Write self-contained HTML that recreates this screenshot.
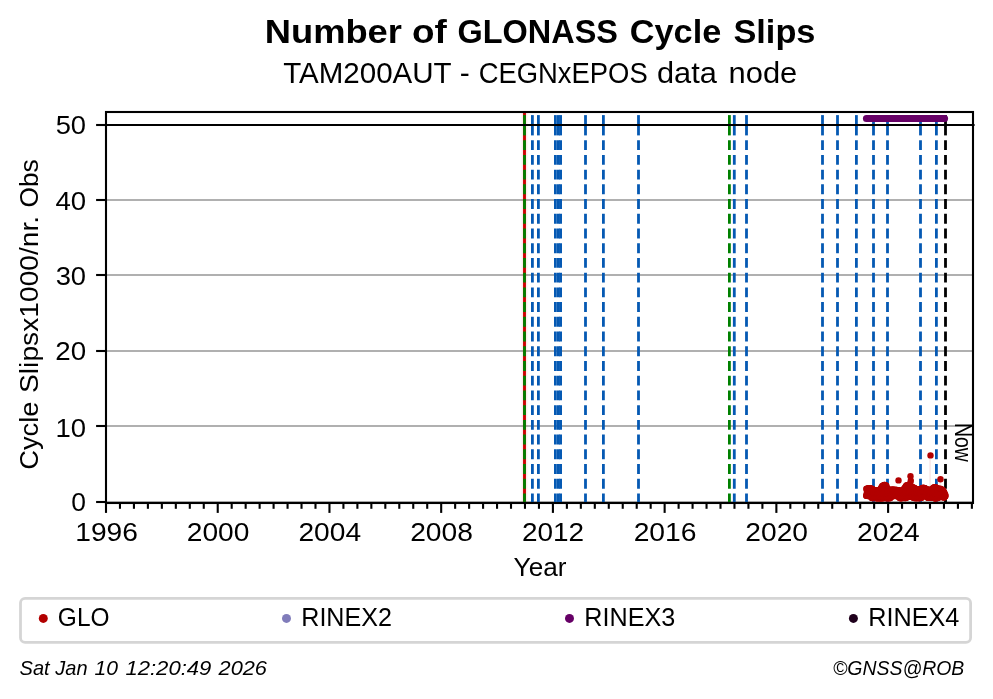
<!DOCTYPE html>
<html><head><meta charset="utf-8"><title>Number of GLONASS Cycle Slips</title>
<style>html,body{margin:0;padding:0;background:#fff;overflow:hidden}svg{display:block;will-change:transform}text{font-family:"Liberation Sans",sans-serif;fill:#000}</style>
</head><body>
<svg width="993" height="699" viewBox="0 0 993 699">
<rect width="993" height="699" fill="#fff"/>
<clipPath id="ax"><rect x="106.0" y="112.0" width="867.0" height="391.0"/></clipPath>
<g stroke="#b0b0b0" stroke-width="2.2">
<line x1="106.0" x2="973.0" y1="502.0" y2="502.0"/>
<line x1="106.0" x2="973.0" y1="426.0" y2="426.0"/>
<line x1="106.0" x2="973.0" y1="351.0" y2="351.0"/>
<line x1="106.0" x2="973.0" y1="275.0" y2="275.0"/>
<line x1="106.0" x2="973.0" y1="200.0" y2="200.0"/>
</g>
<g clip-path="url(#ax)">
<path d="M524.5 112.0V503.0" stroke="#ff0000" stroke-opacity="0.08" stroke-width="5.8" fill="none"/>
<path d="M524.5 112.0V503.0" stroke="#cc0000" stroke-width="2.9" fill="none"/>
<path d="M524.5 115.1V135.4" stroke="#008000" stroke-width="2.8" fill="none"/><path d="M524.5 140.2V503.4" stroke="#008000" stroke-width="2.8" stroke-dasharray="9.9 4.82" fill="none"/>
<path d="M729.4 115.1V135.4" stroke="#008000" stroke-width="2.8" fill="none"/><path d="M729.4 140.2V503.4" stroke="#008000" stroke-width="2.8" stroke-dasharray="9.9 4.82" fill="none"/>
<path d="M532.4 115.1V135.4" stroke="#0559b3" stroke-width="2.8" fill="none"/><path d="M532.4 140.2V503.4" stroke="#0559b3" stroke-width="2.8" stroke-dasharray="9.9 4.82" fill="none"/>
<path d="M538.4 115.1V135.4" stroke="#0559b3" stroke-width="2.8" fill="none"/><path d="M538.4 140.2V503.4" stroke="#0559b3" stroke-width="2.8" stroke-dasharray="9.9 4.82" fill="none"/>
<path d="M555.4 115.1V135.4" stroke="#0559b3" stroke-width="2.8" fill="none"/><path d="M555.4 140.2V503.4" stroke="#0559b3" stroke-width="2.8" stroke-dasharray="9.9 4.82" fill="none"/>
<path d="M558.4 115.1V135.4" stroke="#0559b3" stroke-width="2.8" fill="none"/><path d="M558.4 140.2V503.4" stroke="#0559b3" stroke-width="2.8" stroke-dasharray="9.9 4.82" fill="none"/>
<path d="M560.6 115.1V135.4" stroke="#0559b3" stroke-width="2.8" fill="none"/><path d="M560.6 140.2V503.4" stroke="#0559b3" stroke-width="2.8" stroke-dasharray="9.9 4.82" fill="none"/>
<path d="M585.5 115.1V135.4" stroke="#0559b3" stroke-width="2.8" fill="none"/><path d="M585.5 140.2V503.4" stroke="#0559b3" stroke-width="2.8" stroke-dasharray="9.9 4.82" fill="none"/>
<path d="M603.4 115.1V135.4" stroke="#0559b3" stroke-width="2.8" fill="none"/><path d="M603.4 140.2V503.4" stroke="#0559b3" stroke-width="2.8" stroke-dasharray="9.9 4.82" fill="none"/>
<path d="M638.5 115.1V135.4" stroke="#0559b3" stroke-width="2.8" fill="none"/><path d="M638.5 140.2V503.4" stroke="#0559b3" stroke-width="2.8" stroke-dasharray="9.9 4.82" fill="none"/>
<path d="M734.3 115.1V135.4" stroke="#0559b3" stroke-width="2.8" fill="none"/><path d="M734.3 140.2V503.4" stroke="#0559b3" stroke-width="2.8" stroke-dasharray="9.9 4.82" fill="none"/>
<path d="M746.5 115.1V135.4" stroke="#0559b3" stroke-width="2.8" fill="none"/><path d="M746.5 140.2V503.4" stroke="#0559b3" stroke-width="2.8" stroke-dasharray="9.9 4.82" fill="none"/>
<path d="M822.5 115.1V135.4" stroke="#0559b3" stroke-width="2.8" fill="none"/><path d="M822.5 140.2V503.4" stroke="#0559b3" stroke-width="2.8" stroke-dasharray="9.9 4.82" fill="none"/>
<path d="M837.5 115.1V135.4" stroke="#0559b3" stroke-width="2.8" fill="none"/><path d="M837.5 140.2V503.4" stroke="#0559b3" stroke-width="2.8" stroke-dasharray="9.9 4.82" fill="none"/>
<path d="M856.4 115.1V135.4" stroke="#0559b3" stroke-width="2.8" fill="none"/><path d="M856.4 140.2V503.4" stroke="#0559b3" stroke-width="2.8" stroke-dasharray="9.9 4.82" fill="none"/>
<path d="M873.5 115.1V135.4" stroke="#0559b3" stroke-width="2.8" fill="none"/><path d="M873.5 140.2V503.4" stroke="#0559b3" stroke-width="2.8" stroke-dasharray="9.9 4.82" fill="none"/>
<path d="M887.5 115.1V135.4" stroke="#0559b3" stroke-width="2.8" fill="none"/><path d="M887.5 140.2V503.4" stroke="#0559b3" stroke-width="2.8" stroke-dasharray="9.9 4.82" fill="none"/>
<path d="M920.5 115.1V135.4" stroke="#0559b3" stroke-width="2.8" fill="none"/><path d="M920.5 140.2V503.4" stroke="#0559b3" stroke-width="2.8" stroke-dasharray="9.9 4.82" fill="none"/>
<path d="M936.4 115.1V135.4" stroke="#0559b3" stroke-width="2.8" fill="none"/><path d="M936.4 140.2V503.4" stroke="#0559b3" stroke-width="2.8" stroke-dasharray="9.9 4.82" fill="none"/>
<path d="M945.5 115.1V135.4" stroke="#000000" stroke-width="2.8" fill="none"/><path d="M945.5 140.2V503.4" stroke="#000000" stroke-width="2.8" stroke-dasharray="9.9 4.82" fill="none"/>
</g>
<line x1="106.0" x2="974.6" y1="125" y2="125" stroke="#000" stroke-width="2.1"/>
<g stroke="#b20000" stroke-opacity="0.09" stroke-width="1.6">
<line x1="930.1" x2="930.1" y1="455" y2="490"/><line x1="940.3" x2="940.3" y1="479" y2="490"/>
</g>
<g fill="#b20000">
<path d="M866.3 488.7 L866.8 488.6 L867.3 488.5 L867.8 488.4 L868.3 488.3 L868.8 488.2 L869.3 488.2 L869.8 488.3 L870.3 488.3 L870.8 488.3 L871.3 488.4 L871.8 488.4 L872.3 488.7 L872.8 489.1 L873.3 489.6 L873.8 490.1 L874.3 490.5 L874.8 490.8 L875.3 490.7 L875.8 490.6 L876.3 490.5 L876.8 490.4 L877.3 490.3 L877.8 490.2 L878.3 490.1 L878.8 490.0 L879.3 489.8 L879.8 489.7 L880.3 489.4 L880.8 488.5 L881.3 487.6 L881.8 486.7 L882.3 485.9 L882.8 485.6 L883.3 485.2 L883.8 484.8 L884.3 484.6 L884.8 484.8 L885.3 485.1 L885.8 485.3 L886.3 485.6 L886.8 487.0 L887.3 488.4 L887.8 489.8 L888.3 489.8 L888.8 489.8 L889.3 489.7 L889.8 489.7 L890.3 489.7 L890.8 489.7 L891.3 489.6 L891.8 489.6 L892.3 489.6 L892.8 489.6 L893.3 489.6 L893.8 489.6 L894.3 489.5 L894.8 489.5 L895.3 489.5 L895.8 489.5 L896.3 489.6 L896.8 489.7 L897.3 489.9 L897.8 490.0 L898.3 490.1 L898.8 490.3 L899.3 490.4 L899.8 490.5 L900.3 490.7 L900.8 490.8 L901.3 490.6 L901.8 490.4 L902.3 490.3 L902.8 490.1 L903.3 489.6 L903.8 489.0 L904.3 488.4 L904.8 487.8 L905.3 487.1 L905.8 486.2 L906.3 485.3 L906.8 485.2 L907.3 485.5 L907.8 485.8 L908.3 486.1 L908.8 486.2 L909.3 486.3 L909.8 486.4 L910.3 486.5 L910.8 486.5 L911.3 486.6 L911.8 486.7 L912.3 486.8 L912.8 487.0 L913.3 487.2 L913.8 487.5 L914.3 487.7 L914.8 488.0 L915.3 488.2 L915.8 488.5 L916.3 488.7 L916.8 489.0 L917.3 489.2 L917.8 489.5 L918.3 489.5 L918.8 489.4 L919.3 489.2 L919.8 489.1 L920.3 488.9 L920.8 488.8 L921.3 488.5 L921.8 488.2 L922.3 487.9 L922.8 487.7 L923.3 487.4 L923.8 487.5 L924.3 487.8 L924.8 488.1 L925.3 488.3 L925.8 488.6 L926.3 488.9 L926.8 489.1 L927.3 489.4 L927.8 489.7 L928.3 489.9 L928.8 490.2 L929.3 490.5 L929.8 490.4 L930.3 490.0 L930.8 489.6 L931.3 489.2 L931.8 488.9 L932.3 488.5 L932.8 488.1 L933.3 487.7 L933.8 487.4 L934.3 487.0 L934.8 486.6 L935.3 486.7 L935.8 487.1 L936.3 487.5 L936.8 487.8 L937.3 488.3 L937.8 488.8 L938.3 489.2 L938.8 489.0 L939.3 488.9 L939.8 488.8 L940.3 488.7 L940.8 488.8 L941.3 489.1 L941.8 489.4 L942.3 489.7 L942.8 490.2 L943.3 490.8 L943.8 491.4 L944.3 492.5 L944.8 493.5 L945.3 494.6 L945.3 496.4 L944.8 496.8 L944.3 497.2 L943.8 497.6 L943.3 497.7 L942.8 497.3 L942.3 497.0 L941.8 496.8 L941.3 496.8 L940.8 496.8 L940.3 496.8 L939.8 496.8 L939.3 497.0 L938.8 497.5 L938.3 498.0 L937.8 498.3 L937.3 498.3 L936.8 498.3 L936.3 498.3 L935.8 498.3 L935.3 498.3 L934.8 498.3 L934.3 498.3 L933.8 498.2 L933.3 498.1 L932.8 498.0 L932.3 497.8 L931.8 497.7 L931.3 497.6 L930.8 497.5 L930.3 497.6 L929.8 497.7 L929.3 497.8 L928.8 497.9 L928.3 498.0 L927.8 497.9 L927.3 497.4 L926.8 496.9 L926.3 496.4 L925.8 496.1 L925.3 496.1 L924.8 496.1 L924.3 496.1 L923.8 496.1 L923.3 496.1 L922.8 496.3 L922.3 496.9 L921.8 497.4 L921.3 498.0 L920.8 498.3 L920.3 498.3 L919.8 498.3 L919.3 498.3 L918.8 498.3 L918.3 498.3 L917.8 498.3 L917.3 498.3 L916.8 498.3 L916.3 498.3 L915.8 498.3 L915.3 498.3 L914.8 498.3 L914.3 498.3 L913.8 498.2 L913.3 497.8 L912.8 497.5 L912.3 497.2 L911.8 497.0 L911.3 497.0 L910.8 496.9 L910.3 496.9 L909.8 496.9 L909.3 496.9 L908.8 496.8 L908.3 496.8 L907.8 497.0 L907.3 497.3 L906.8 497.7 L906.3 498.1 L905.8 498.3 L905.3 498.3 L904.8 498.3 L904.3 498.3 L903.8 498.3 L903.3 498.3 L902.8 498.3 L902.3 498.3 L901.8 498.3 L901.3 498.3 L900.8 498.3 L900.3 498.3 L899.8 498.1 L899.3 497.5 L898.8 497.0 L898.3 496.4 L897.8 496.1 L897.3 496.1 L896.8 496.1 L896.3 496.2 L895.8 496.2 L895.3 496.2 L894.8 496.2 L894.3 496.2 L893.8 496.2 L893.3 496.3 L892.8 496.3 L892.3 496.3 L891.8 496.5 L891.3 497.0 L890.8 497.5 L890.3 498.0 L889.8 498.3 L889.3 498.3 L888.8 498.3 L888.3 498.3 L887.8 498.3 L887.3 498.3 L886.8 498.3 L886.3 498.3 L885.8 498.3 L885.3 498.3 L884.8 498.3 L884.3 498.3 L883.8 498.3 L883.3 498.3 L882.8 498.3 L882.3 498.3 L881.8 498.3 L881.3 498.3 L880.8 498.3 L880.3 498.3 L879.8 498.3 L879.3 498.3 L878.8 498.3 L878.3 498.3 L877.8 498.3 L877.3 498.3 L876.8 498.3 L876.3 498.3 L875.8 498.3 L875.3 498.3 L874.8 498.3 L874.3 498.3 L873.8 498.3 L873.3 498.3 L872.8 498.3 L872.3 498.3 L871.8 498.1 L871.3 497.5 L870.8 497.0 L870.3 496.4 L869.8 496.1 L869.3 496.1 L868.8 496.1 L868.3 496.1 L867.8 496.0 L867.3 496.0 L866.8 496.0 L866.3 496.0Z" stroke="#b20000" stroke-width="1"/>
<circle cx="866.3" cy="488.9" r="3.2"/><circle cx="866.3" cy="495.7" r="3.2"/><circle cx="866.3" cy="495.4" r="3.2"/><circle cx="866.8" cy="488.8" r="3.2"/><circle cx="866.8" cy="495.8" r="3.2"/><circle cx="866.8" cy="493.0" r="3.2"/><circle cx="867.3" cy="488.6" r="3.2"/><circle cx="867.3" cy="495.8" r="3.2"/><circle cx="867.3" cy="493.2" r="3.2"/><circle cx="867.8" cy="488.8" r="3.2"/><circle cx="867.8" cy="496.0" r="3.2"/><circle cx="867.8" cy="490.7" r="3.2"/><circle cx="868.3" cy="488.4" r="3.2"/><circle cx="868.3" cy="495.6" r="3.2"/><circle cx="868.3" cy="493.7" r="3.2"/><circle cx="868.8" cy="488.3" r="3.2"/><circle cx="868.8" cy="495.6" r="3.2"/><circle cx="868.8" cy="495.8" r="3.2"/><circle cx="869.3" cy="488.5" r="3.2"/><circle cx="869.3" cy="495.8" r="3.2"/><circle cx="869.3" cy="489.5" r="3.2"/><circle cx="869.8" cy="488.3" r="3.2"/><circle cx="869.8" cy="495.8" r="3.2"/><circle cx="869.8" cy="488.7" r="3.2"/><circle cx="870.3" cy="488.4" r="3.2"/><circle cx="870.3" cy="496.3" r="3.2"/><circle cx="870.3" cy="488.5" r="3.2"/><circle cx="870.8" cy="488.6" r="3.2"/><circle cx="870.8" cy="496.8" r="3.2"/><circle cx="870.8" cy="495.6" r="3.2"/><circle cx="871.3" cy="488.6" r="3.2"/><circle cx="871.3" cy="497.2" r="3.2"/><circle cx="871.3" cy="492.9" r="3.2"/><circle cx="871.8" cy="488.7" r="3.2"/><circle cx="871.8" cy="497.9" r="3.2"/><circle cx="871.8" cy="491.1" r="3.2"/><circle cx="872.3" cy="489.2" r="3.2"/><circle cx="872.3" cy="497.8" r="3.2"/><circle cx="872.3" cy="496.8" r="3.2"/><circle cx="872.8" cy="489.5" r="3.2"/><circle cx="872.8" cy="498.1" r="3.2"/><circle cx="872.8" cy="491.2" r="3.2"/><circle cx="873.3" cy="489.7" r="3.2"/><circle cx="873.3" cy="498.3" r="3.2"/><circle cx="873.3" cy="496.3" r="3.2"/><circle cx="873.8" cy="490.3" r="3.2"/><circle cx="873.8" cy="497.9" r="3.2"/><circle cx="873.8" cy="493.2" r="3.2"/><circle cx="874.3" cy="491.0" r="3.2"/><circle cx="874.3" cy="497.9" r="3.2"/><circle cx="874.3" cy="490.5" r="3.2"/><circle cx="874.8" cy="490.9" r="3.2"/><circle cx="874.8" cy="497.8" r="3.2"/><circle cx="874.8" cy="494.3" r="3.2"/><circle cx="875.3" cy="491.2" r="3.2"/><circle cx="875.3" cy="498.1" r="3.2"/><circle cx="875.3" cy="491.2" r="3.2"/><circle cx="875.8" cy="490.9" r="3.2"/><circle cx="875.8" cy="497.9" r="3.2"/><circle cx="875.8" cy="492.7" r="3.2"/><circle cx="876.3" cy="490.5" r="3.2"/><circle cx="876.3" cy="498.1" r="3.2"/><circle cx="876.3" cy="498.0" r="3.2"/><circle cx="876.8" cy="490.8" r="3.2"/><circle cx="876.8" cy="498.2" r="3.2"/><circle cx="876.8" cy="492.4" r="3.2"/><circle cx="877.3" cy="490.4" r="3.2"/><circle cx="877.3" cy="498.3" r="3.2"/><circle cx="877.3" cy="496.7" r="3.2"/><circle cx="877.8" cy="490.3" r="3.2"/><circle cx="877.8" cy="498.0" r="3.2"/><circle cx="877.8" cy="493.8" r="3.2"/><circle cx="878.3" cy="490.2" r="3.2"/><circle cx="878.3" cy="497.9" r="3.2"/><circle cx="878.3" cy="491.2" r="3.2"/><circle cx="878.8" cy="490.3" r="3.2"/><circle cx="878.8" cy="498.2" r="3.2"/><circle cx="878.8" cy="493.5" r="3.2"/><circle cx="879.3" cy="490.0" r="3.2"/><circle cx="879.3" cy="498.2" r="3.2"/><circle cx="879.3" cy="498.1" r="3.2"/><circle cx="879.8" cy="490.1" r="3.2"/><circle cx="879.8" cy="498.1" r="3.2"/><circle cx="879.8" cy="497.3" r="3.2"/><circle cx="880.3" cy="489.5" r="3.2"/><circle cx="880.3" cy="498.1" r="3.2"/><circle cx="880.3" cy="497.0" r="3.2"/><circle cx="880.8" cy="488.8" r="3.2"/><circle cx="880.8" cy="498.2" r="3.2"/><circle cx="880.8" cy="498.2" r="3.2"/><circle cx="881.3" cy="487.7" r="3.2"/><circle cx="881.3" cy="498.2" r="3.2"/><circle cx="881.3" cy="495.9" r="3.2"/><circle cx="881.8" cy="486.9" r="3.2"/><circle cx="881.8" cy="498.2" r="3.2"/><circle cx="881.8" cy="487.6" r="3.2"/><circle cx="882.3" cy="486.0" r="3.2"/><circle cx="882.3" cy="498.0" r="3.2"/><circle cx="882.3" cy="488.9" r="3.2"/><circle cx="882.8" cy="485.9" r="3.2"/><circle cx="882.8" cy="498.1" r="3.2"/><circle cx="882.8" cy="491.3" r="3.2"/><circle cx="883.3" cy="485.7" r="3.2"/><circle cx="883.3" cy="498.1" r="3.2"/><circle cx="883.3" cy="492.7" r="3.2"/><circle cx="883.8" cy="485.2" r="3.2"/><circle cx="883.8" cy="498.2" r="3.2"/><circle cx="883.8" cy="486.9" r="3.2"/><circle cx="884.3" cy="485.0" r="3.2"/><circle cx="884.3" cy="497.9" r="3.2"/><circle cx="884.3" cy="488.0" r="3.2"/><circle cx="884.8" cy="484.9" r="3.2"/><circle cx="884.8" cy="497.9" r="3.2"/><circle cx="884.8" cy="497.5" r="3.2"/><circle cx="885.3" cy="485.2" r="3.2"/><circle cx="885.3" cy="497.8" r="3.2"/><circle cx="885.3" cy="496.7" r="3.2"/><circle cx="885.8" cy="485.6" r="3.2"/><circle cx="885.8" cy="498.1" r="3.2"/><circle cx="885.8" cy="486.7" r="3.2"/><circle cx="886.3" cy="485.6" r="3.2"/><circle cx="886.3" cy="497.8" r="3.2"/><circle cx="886.3" cy="488.6" r="3.2"/><circle cx="886.8" cy="487.4" r="3.2"/><circle cx="886.8" cy="498.2" r="3.2"/><circle cx="886.8" cy="496.3" r="3.2"/><circle cx="887.3" cy="488.7" r="3.2"/><circle cx="887.3" cy="498.2" r="3.2"/><circle cx="887.3" cy="490.1" r="3.2"/><circle cx="887.8" cy="490.2" r="3.2"/><circle cx="887.8" cy="498.3" r="3.2"/><circle cx="887.8" cy="491.7" r="3.2"/><circle cx="888.3" cy="490.1" r="3.2"/><circle cx="888.3" cy="497.9" r="3.2"/><circle cx="888.3" cy="495.0" r="3.2"/><circle cx="888.8" cy="489.9" r="3.2"/><circle cx="888.8" cy="497.8" r="3.2"/><circle cx="888.8" cy="491.5" r="3.2"/><circle cx="889.3" cy="489.7" r="3.2"/><circle cx="889.3" cy="498.2" r="3.2"/><circle cx="889.3" cy="493.5" r="3.2"/><circle cx="889.8" cy="489.7" r="3.2"/><circle cx="889.8" cy="498.2" r="3.2"/><circle cx="889.8" cy="492.9" r="3.2"/><circle cx="890.3" cy="490.0" r="3.2"/><circle cx="890.3" cy="497.9" r="3.2"/><circle cx="890.3" cy="492.7" r="3.2"/><circle cx="890.8" cy="490.1" r="3.2"/><circle cx="890.8" cy="497.0" r="3.2"/><circle cx="890.8" cy="494.8" r="3.2"/><circle cx="891.3" cy="490.0" r="3.2"/><circle cx="891.3" cy="496.7" r="3.2"/><circle cx="891.3" cy="490.7" r="3.2"/><circle cx="891.8" cy="489.6" r="3.2"/><circle cx="891.8" cy="496.5" r="3.2"/><circle cx="891.8" cy="495.9" r="3.2"/><circle cx="892.3" cy="489.9" r="3.2"/><circle cx="892.3" cy="495.8" r="3.2"/><circle cx="892.3" cy="489.7" r="3.2"/><circle cx="892.8" cy="489.9" r="3.2"/><circle cx="892.8" cy="496.0" r="3.2"/><circle cx="892.8" cy="494.5" r="3.2"/><circle cx="893.3" cy="489.7" r="3.2"/><circle cx="893.3" cy="495.8" r="3.2"/><circle cx="893.3" cy="490.1" r="3.2"/><circle cx="893.8" cy="489.8" r="3.2"/><circle cx="893.8" cy="495.9" r="3.2"/><circle cx="893.8" cy="495.6" r="3.2"/><circle cx="894.3" cy="489.9" r="3.2"/><circle cx="894.3" cy="495.9" r="3.2"/><circle cx="894.3" cy="494.8" r="3.2"/><circle cx="894.8" cy="490.0" r="3.2"/><circle cx="894.8" cy="496.0" r="3.2"/><circle cx="894.8" cy="494.1" r="3.2"/><circle cx="895.3" cy="490.0" r="3.2"/><circle cx="895.3" cy="495.8" r="3.2"/><circle cx="895.3" cy="492.3" r="3.2"/><circle cx="895.8" cy="489.9" r="3.2"/><circle cx="895.8" cy="495.7" r="3.2"/><circle cx="895.8" cy="493.3" r="3.2"/><circle cx="896.3" cy="489.9" r="3.2"/><circle cx="896.3" cy="496.0" r="3.2"/><circle cx="896.3" cy="493.4" r="3.2"/><circle cx="896.8" cy="490.0" r="3.2"/><circle cx="896.8" cy="496.1" r="3.2"/><circle cx="896.8" cy="493.8" r="3.2"/><circle cx="897.3" cy="490.3" r="3.2"/><circle cx="897.3" cy="495.7" r="3.2"/><circle cx="897.3" cy="494.4" r="3.2"/><circle cx="897.8" cy="490.2" r="3.2"/><circle cx="897.8" cy="495.7" r="3.2"/><circle cx="897.8" cy="493.5" r="3.2"/><circle cx="898.3" cy="490.3" r="3.2"/><circle cx="898.3" cy="496.0" r="3.2"/><circle cx="898.3" cy="490.7" r="3.2"/><circle cx="898.8" cy="490.6" r="3.2"/><circle cx="898.8" cy="497.0" r="3.2"/><circle cx="898.8" cy="494.3" r="3.2"/><circle cx="899.3" cy="490.6" r="3.2"/><circle cx="899.3" cy="497.4" r="3.2"/><circle cx="899.3" cy="495.4" r="3.2"/><circle cx="899.8" cy="490.8" r="3.2"/><circle cx="899.8" cy="497.8" r="3.2"/><circle cx="899.8" cy="497.5" r="3.2"/><circle cx="900.3" cy="490.8" r="3.2"/><circle cx="900.3" cy="498.3" r="3.2"/><circle cx="900.3" cy="493.0" r="3.2"/><circle cx="900.8" cy="491.1" r="3.2"/><circle cx="900.8" cy="498.2" r="3.2"/><circle cx="900.8" cy="492.1" r="3.2"/><circle cx="901.3" cy="491.1" r="3.2"/><circle cx="901.3" cy="498.0" r="3.2"/><circle cx="901.3" cy="494.0" r="3.2"/><circle cx="901.8" cy="490.9" r="3.2"/><circle cx="901.8" cy="498.1" r="3.2"/><circle cx="901.8" cy="495.7" r="3.2"/><circle cx="902.3" cy="490.4" r="3.2"/><circle cx="902.3" cy="498.1" r="3.2"/><circle cx="902.3" cy="496.7" r="3.2"/><circle cx="902.8" cy="490.5" r="3.2"/><circle cx="902.8" cy="497.9" r="3.2"/><circle cx="902.8" cy="493.2" r="3.2"/><circle cx="903.3" cy="489.9" r="3.2"/><circle cx="903.3" cy="498.1" r="3.2"/><circle cx="903.3" cy="490.8" r="3.2"/><circle cx="903.8" cy="489.3" r="3.2"/><circle cx="903.8" cy="497.9" r="3.2"/><circle cx="903.8" cy="496.9" r="3.2"/><circle cx="904.3" cy="488.8" r="3.2"/><circle cx="904.3" cy="497.8" r="3.2"/><circle cx="904.3" cy="491.2" r="3.2"/><circle cx="904.8" cy="487.9" r="3.2"/><circle cx="904.8" cy="498.1" r="3.2"/><circle cx="904.8" cy="490.7" r="3.2"/><circle cx="905.3" cy="487.2" r="3.2"/><circle cx="905.3" cy="498.1" r="3.2"/><circle cx="905.3" cy="494.1" r="3.2"/><circle cx="905.8" cy="486.5" r="3.2"/><circle cx="905.8" cy="498.1" r="3.2"/><circle cx="905.8" cy="496.4" r="3.2"/><circle cx="906.3" cy="485.8" r="3.2"/><circle cx="906.3" cy="497.8" r="3.2"/><circle cx="906.3" cy="486.3" r="3.2"/><circle cx="906.8" cy="485.2" r="3.2"/><circle cx="906.8" cy="497.3" r="3.2"/><circle cx="906.8" cy="485.7" r="3.2"/><circle cx="907.3" cy="485.8" r="3.2"/><circle cx="907.3" cy="497.0" r="3.2"/><circle cx="907.3" cy="489.1" r="3.2"/><circle cx="907.8" cy="486.2" r="3.2"/><circle cx="907.8" cy="496.9" r="3.2"/><circle cx="907.8" cy="487.3" r="3.2"/><circle cx="908.3" cy="486.3" r="3.2"/><circle cx="908.3" cy="496.8" r="3.2"/><circle cx="908.3" cy="495.0" r="3.2"/><circle cx="908.8" cy="486.4" r="3.2"/><circle cx="908.8" cy="496.8" r="3.2"/><circle cx="908.8" cy="486.7" r="3.2"/><circle cx="909.3" cy="486.6" r="3.2"/><circle cx="909.3" cy="496.6" r="3.2"/><circle cx="909.3" cy="493.0" r="3.2"/><circle cx="909.8" cy="486.7" r="3.2"/><circle cx="909.8" cy="496.5" r="3.2"/><circle cx="909.8" cy="496.5" r="3.2"/><circle cx="910.3" cy="486.8" r="3.2"/><circle cx="910.3" cy="496.8" r="3.2"/><circle cx="910.3" cy="491.4" r="3.2"/><circle cx="910.8" cy="486.6" r="3.2"/><circle cx="910.8" cy="496.9" r="3.2"/><circle cx="910.8" cy="491.5" r="3.2"/><circle cx="911.3" cy="487.0" r="3.2"/><circle cx="911.3" cy="496.9" r="3.2"/><circle cx="911.3" cy="489.4" r="3.2"/><circle cx="911.8" cy="486.9" r="3.2"/><circle cx="911.8" cy="496.6" r="3.2"/><circle cx="911.8" cy="492.1" r="3.2"/><circle cx="912.3" cy="487.1" r="3.2"/><circle cx="912.3" cy="496.8" r="3.2"/><circle cx="912.3" cy="490.9" r="3.2"/><circle cx="912.8" cy="487.4" r="3.2"/><circle cx="912.8" cy="497.1" r="3.2"/><circle cx="912.8" cy="487.9" r="3.2"/><circle cx="913.3" cy="487.7" r="3.2"/><circle cx="913.3" cy="497.5" r="3.2"/><circle cx="913.3" cy="488.6" r="3.2"/><circle cx="913.8" cy="487.7" r="3.2"/><circle cx="913.8" cy="497.9" r="3.2"/><circle cx="913.8" cy="497.2" r="3.2"/><circle cx="914.3" cy="487.9" r="3.2"/><circle cx="914.3" cy="498.0" r="3.2"/><circle cx="914.3" cy="497.0" r="3.2"/><circle cx="914.8" cy="488.4" r="3.2"/><circle cx="914.8" cy="497.8" r="3.2"/><circle cx="914.8" cy="492.8" r="3.2"/><circle cx="915.3" cy="488.6" r="3.2"/><circle cx="915.3" cy="498.2" r="3.2"/><circle cx="915.3" cy="495.5" r="3.2"/><circle cx="915.8" cy="488.9" r="3.2"/><circle cx="915.8" cy="498.0" r="3.2"/><circle cx="915.8" cy="495.5" r="3.2"/><circle cx="916.3" cy="488.9" r="3.2"/><circle cx="916.3" cy="497.9" r="3.2"/><circle cx="916.3" cy="498.1" r="3.2"/><circle cx="916.8" cy="489.5" r="3.2"/><circle cx="916.8" cy="498.0" r="3.2"/><circle cx="916.8" cy="496.4" r="3.2"/><circle cx="917.3" cy="489.4" r="3.2"/><circle cx="917.3" cy="497.8" r="3.2"/><circle cx="917.3" cy="497.0" r="3.2"/><circle cx="917.8" cy="489.7" r="3.2"/><circle cx="917.8" cy="498.3" r="3.2"/><circle cx="917.8" cy="493.4" r="3.2"/><circle cx="918.3" cy="489.8" r="3.2"/><circle cx="918.3" cy="497.9" r="3.2"/><circle cx="918.3" cy="493.8" r="3.2"/><circle cx="918.8" cy="489.4" r="3.2"/><circle cx="918.8" cy="497.9" r="3.2"/><circle cx="918.8" cy="489.9" r="3.2"/><circle cx="919.3" cy="489.6" r="3.2"/><circle cx="919.3" cy="498.2" r="3.2"/><circle cx="919.3" cy="492.3" r="3.2"/><circle cx="919.8" cy="489.5" r="3.2"/><circle cx="919.8" cy="498.2" r="3.2"/><circle cx="919.8" cy="490.4" r="3.2"/><circle cx="920.3" cy="489.2" r="3.2"/><circle cx="920.3" cy="497.9" r="3.2"/><circle cx="920.3" cy="496.8" r="3.2"/><circle cx="920.8" cy="489.1" r="3.2"/><circle cx="920.8" cy="497.8" r="3.2"/><circle cx="920.8" cy="493.5" r="3.2"/><circle cx="921.3" cy="489.0" r="3.2"/><circle cx="921.3" cy="497.9" r="3.2"/><circle cx="921.3" cy="490.6" r="3.2"/><circle cx="921.8" cy="488.5" r="3.2"/><circle cx="921.8" cy="497.3" r="3.2"/><circle cx="921.8" cy="494.9" r="3.2"/><circle cx="922.3" cy="488.3" r="3.2"/><circle cx="922.3" cy="496.6" r="3.2"/><circle cx="922.3" cy="495.5" r="3.2"/><circle cx="922.8" cy="487.9" r="3.2"/><circle cx="922.8" cy="496.2" r="3.2"/><circle cx="922.8" cy="491.0" r="3.2"/><circle cx="923.3" cy="487.8" r="3.2"/><circle cx="923.3" cy="495.6" r="3.2"/><circle cx="923.3" cy="489.2" r="3.2"/><circle cx="923.8" cy="487.9" r="3.2"/><circle cx="923.8" cy="495.6" r="3.2"/><circle cx="923.8" cy="492.0" r="3.2"/><circle cx="924.3" cy="488.1" r="3.2"/><circle cx="924.3" cy="496.0" r="3.2"/><circle cx="924.3" cy="492.2" r="3.2"/><circle cx="924.8" cy="488.3" r="3.2"/><circle cx="924.8" cy="495.8" r="3.2"/><circle cx="924.8" cy="488.3" r="3.2"/><circle cx="925.3" cy="488.8" r="3.2"/><circle cx="925.3" cy="495.8" r="3.2"/><circle cx="925.3" cy="491.4" r="3.2"/><circle cx="925.8" cy="489.0" r="3.2"/><circle cx="925.8" cy="495.8" r="3.2"/><circle cx="925.8" cy="492.3" r="3.2"/><circle cx="926.3" cy="489.2" r="3.2"/><circle cx="926.3" cy="496.4" r="3.2"/><circle cx="926.3" cy="492.9" r="3.2"/><circle cx="926.8" cy="489.3" r="3.2"/><circle cx="926.8" cy="496.4" r="3.2"/><circle cx="926.8" cy="496.3" r="3.2"/><circle cx="927.3" cy="489.5" r="3.2"/><circle cx="927.3" cy="497.2" r="3.2"/><circle cx="927.3" cy="490.4" r="3.2"/><circle cx="927.8" cy="489.9" r="3.2"/><circle cx="927.8" cy="497.5" r="3.2"/><circle cx="927.8" cy="497.1" r="3.2"/><circle cx="928.3" cy="490.2" r="3.2"/><circle cx="928.3" cy="497.9" r="3.2"/><circle cx="928.3" cy="491.5" r="3.2"/><circle cx="928.8" cy="490.5" r="3.2"/><circle cx="928.8" cy="497.5" r="3.2"/><circle cx="928.8" cy="491.2" r="3.2"/><circle cx="929.3" cy="490.9" r="3.2"/><circle cx="929.3" cy="497.8" r="3.2"/><circle cx="929.3" cy="491.9" r="3.2"/><circle cx="929.8" cy="490.5" r="3.2"/><circle cx="929.8" cy="497.4" r="3.2"/><circle cx="929.8" cy="492.7" r="3.2"/><circle cx="930.3" cy="490.2" r="3.2"/><circle cx="930.3" cy="497.3" r="3.2"/><circle cx="930.3" cy="490.8" r="3.2"/><circle cx="930.8" cy="490.0" r="3.2"/><circle cx="930.8" cy="497.5" r="3.2"/><circle cx="930.8" cy="493.7" r="3.2"/><circle cx="931.3" cy="489.4" r="3.2"/><circle cx="931.3" cy="497.5" r="3.2"/><circle cx="931.3" cy="493.7" r="3.2"/><circle cx="931.8" cy="489.1" r="3.2"/><circle cx="931.8" cy="497.5" r="3.2"/><circle cx="931.8" cy="492.5" r="3.2"/><circle cx="932.3" cy="488.7" r="3.2"/><circle cx="932.3" cy="497.8" r="3.2"/><circle cx="932.3" cy="490.4" r="3.2"/><circle cx="932.8" cy="488.4" r="3.2"/><circle cx="932.8" cy="497.7" r="3.2"/><circle cx="932.8" cy="493.3" r="3.2"/><circle cx="933.3" cy="488.2" r="3.2"/><circle cx="933.3" cy="497.8" r="3.2"/><circle cx="933.3" cy="496.6" r="3.2"/><circle cx="933.8" cy="487.5" r="3.2"/><circle cx="933.8" cy="497.9" r="3.2"/><circle cx="933.8" cy="496.2" r="3.2"/><circle cx="934.3" cy="487.5" r="3.2"/><circle cx="934.3" cy="498.1" r="3.2"/><circle cx="934.3" cy="490.6" r="3.2"/><circle cx="934.8" cy="487.1" r="3.2"/><circle cx="934.8" cy="498.2" r="3.2"/><circle cx="934.8" cy="498.3" r="3.2"/><circle cx="935.3" cy="487.2" r="3.2"/><circle cx="935.3" cy="498.2" r="3.2"/><circle cx="935.3" cy="489.5" r="3.2"/><circle cx="935.8" cy="487.5" r="3.2"/><circle cx="935.8" cy="498.2" r="3.2"/><circle cx="935.8" cy="488.2" r="3.2"/><circle cx="936.3" cy="487.9" r="3.2"/><circle cx="936.3" cy="498.1" r="3.2"/><circle cx="936.3" cy="496.0" r="3.2"/><circle cx="936.8" cy="487.9" r="3.2"/><circle cx="936.8" cy="498.1" r="3.2"/><circle cx="936.8" cy="495.0" r="3.2"/><circle cx="937.3" cy="488.3" r="3.2"/><circle cx="937.3" cy="498.2" r="3.2"/><circle cx="937.3" cy="495.1" r="3.2"/><circle cx="937.8" cy="489.3" r="3.2"/><circle cx="937.8" cy="497.8" r="3.2"/><circle cx="937.8" cy="489.9" r="3.2"/><circle cx="938.3" cy="489.4" r="3.2"/><circle cx="938.3" cy="497.6" r="3.2"/><circle cx="938.3" cy="493.6" r="3.2"/><circle cx="938.8" cy="489.4" r="3.2"/><circle cx="938.8" cy="497.4" r="3.2"/><circle cx="938.8" cy="489.6" r="3.2"/><circle cx="939.3" cy="489.0" r="3.2"/><circle cx="939.3" cy="497.0" r="3.2"/><circle cx="939.3" cy="493.4" r="3.2"/><circle cx="939.8" cy="489.0" r="3.2"/><circle cx="939.8" cy="496.5" r="3.2"/><circle cx="939.8" cy="490.0" r="3.2"/><circle cx="940.3" cy="488.7" r="3.2"/><circle cx="940.3" cy="496.7" r="3.2"/><circle cx="940.3" cy="495.5" r="3.2"/><circle cx="940.8" cy="489.3" r="3.2"/><circle cx="940.8" cy="496.3" r="3.2"/><circle cx="940.8" cy="489.5" r="3.2"/><circle cx="941.3" cy="489.1" r="3.2"/><circle cx="941.3" cy="496.3" r="3.2"/><circle cx="941.3" cy="492.6" r="3.2"/><circle cx="941.8" cy="489.8" r="3.2"/><circle cx="941.8" cy="496.6" r="3.2"/><circle cx="941.8" cy="492.8" r="3.2"/><circle cx="942.3" cy="489.9" r="3.2"/><circle cx="942.3" cy="496.8" r="3.2"/><circle cx="942.3" cy="494.1" r="3.2"/><circle cx="942.8" cy="490.2" r="3.2"/><circle cx="942.8" cy="497.0" r="3.2"/><circle cx="942.8" cy="496.2" r="3.2"/><circle cx="943.3" cy="490.9" r="3.2"/><circle cx="943.3" cy="497.4" r="3.2"/><circle cx="943.3" cy="495.9" r="3.2"/><circle cx="943.8" cy="491.6" r="3.2"/><circle cx="943.8" cy="497.5" r="3.2"/><circle cx="943.8" cy="492.4" r="3.2"/><circle cx="944.3" cy="492.7" r="3.2"/><circle cx="944.3" cy="497.2" r="3.2"/><circle cx="944.3" cy="496.7" r="3.2"/><circle cx="944.8" cy="493.9" r="3.2"/><circle cx="944.8" cy="496.4" r="3.2"/><circle cx="944.8" cy="496.3" r="3.2"/><circle cx="945.3" cy="494.9" r="3.2"/><circle cx="945.3" cy="496.2" r="3.2"/><circle cx="945.3" cy="495.7" r="3.2"/><circle cx="898.5" cy="480.4" r="3.2"/><circle cx="910.5" cy="476.3" r="3.2"/><circle cx="910.8" cy="480.8" r="3.2"/><circle cx="910.2" cy="483.4" r="3.2"/><circle cx="930.5" cy="455.4" r="3.2"/><circle cx="940.5" cy="479.3" r="3.2"/>
</g>
<path d="M866.4 118.4H944.6" stroke="#660066" stroke-width="7" stroke-linecap="round" fill="none"/>
<rect x="106.0" y="112.0" width="867.0" height="391.0" fill="none" stroke="#000" stroke-width="2.1"/>
<g stroke="#000" stroke-width="2.1">
<line x1="96.1" x2="106.0" y1="125.0" y2="125.0"/>
<line x1="96.1" x2="106.0" y1="200.0" y2="200.0"/>
<line x1="96.1" x2="106.0" y1="275.0" y2="275.0"/>
<line x1="96.1" x2="106.0" y1="351.0" y2="351.0"/>
<line x1="96.1" x2="106.0" y1="426.0" y2="426.0"/>
<line x1="96.1" x2="106.0" y1="502.0" y2="502.0"/>
<line x1="106.00" x2="106.00" y1="503.0" y2="512.9"/>
<line x1="119.97" x2="119.97" y1="503.0" y2="508.8"/>
<line x1="133.93" x2="133.93" y1="503.0" y2="508.8"/>
<line x1="147.90" x2="147.90" y1="503.0" y2="508.8"/>
<line x1="161.86" x2="161.86" y1="503.0" y2="508.8"/>
<line x1="175.83" x2="175.83" y1="503.0" y2="508.8"/>
<line x1="189.80" x2="189.80" y1="503.0" y2="508.8"/>
<line x1="203.76" x2="203.76" y1="503.0" y2="508.8"/>
<line x1="217.73" x2="217.73" y1="503.0" y2="512.9"/>
<line x1="231.69" x2="231.69" y1="503.0" y2="508.8"/>
<line x1="245.66" x2="245.66" y1="503.0" y2="508.8"/>
<line x1="259.63" x2="259.63" y1="503.0" y2="508.8"/>
<line x1="273.59" x2="273.59" y1="503.0" y2="508.8"/>
<line x1="287.56" x2="287.56" y1="503.0" y2="508.8"/>
<line x1="301.52" x2="301.52" y1="503.0" y2="508.8"/>
<line x1="315.49" x2="315.49" y1="503.0" y2="508.8"/>
<line x1="329.46" x2="329.46" y1="503.0" y2="512.9"/>
<line x1="343.42" x2="343.42" y1="503.0" y2="508.8"/>
<line x1="357.39" x2="357.39" y1="503.0" y2="508.8"/>
<line x1="371.35" x2="371.35" y1="503.0" y2="508.8"/>
<line x1="385.32" x2="385.32" y1="503.0" y2="508.8"/>
<line x1="399.29" x2="399.29" y1="503.0" y2="508.8"/>
<line x1="413.25" x2="413.25" y1="503.0" y2="508.8"/>
<line x1="427.22" x2="427.22" y1="503.0" y2="508.8"/>
<line x1="441.18" x2="441.18" y1="503.0" y2="512.9"/>
<line x1="455.15" x2="455.15" y1="503.0" y2="508.8"/>
<line x1="469.12" x2="469.12" y1="503.0" y2="508.8"/>
<line x1="483.08" x2="483.08" y1="503.0" y2="508.8"/>
<line x1="497.05" x2="497.05" y1="503.0" y2="508.8"/>
<line x1="511.01" x2="511.01" y1="503.0" y2="508.8"/>
<line x1="524.98" x2="524.98" y1="503.0" y2="508.8"/>
<line x1="538.95" x2="538.95" y1="503.0" y2="508.8"/>
<line x1="552.91" x2="552.91" y1="503.0" y2="512.9"/>
<line x1="566.88" x2="566.88" y1="503.0" y2="508.8"/>
<line x1="580.84" x2="580.84" y1="503.0" y2="508.8"/>
<line x1="594.81" x2="594.81" y1="503.0" y2="508.8"/>
<line x1="608.78" x2="608.78" y1="503.0" y2="508.8"/>
<line x1="622.74" x2="622.74" y1="503.0" y2="508.8"/>
<line x1="636.71" x2="636.71" y1="503.0" y2="508.8"/>
<line x1="650.67" x2="650.67" y1="503.0" y2="508.8"/>
<line x1="664.64" x2="664.64" y1="503.0" y2="512.9"/>
<line x1="678.61" x2="678.61" y1="503.0" y2="508.8"/>
<line x1="692.57" x2="692.57" y1="503.0" y2="508.8"/>
<line x1="706.54" x2="706.54" y1="503.0" y2="508.8"/>
<line x1="720.50" x2="720.50" y1="503.0" y2="508.8"/>
<line x1="734.47" x2="734.47" y1="503.0" y2="508.8"/>
<line x1="748.44" x2="748.44" y1="503.0" y2="508.8"/>
<line x1="762.40" x2="762.40" y1="503.0" y2="508.8"/>
<line x1="776.37" x2="776.37" y1="503.0" y2="512.9"/>
<line x1="790.33" x2="790.33" y1="503.0" y2="508.8"/>
<line x1="804.30" x2="804.30" y1="503.0" y2="508.8"/>
<line x1="818.27" x2="818.27" y1="503.0" y2="508.8"/>
<line x1="832.23" x2="832.23" y1="503.0" y2="508.8"/>
<line x1="846.20" x2="846.20" y1="503.0" y2="508.8"/>
<line x1="860.16" x2="860.16" y1="503.0" y2="508.8"/>
<line x1="874.13" x2="874.13" y1="503.0" y2="508.8"/>
<line x1="888.10" x2="888.10" y1="503.0" y2="512.9"/>
<line x1="902.06" x2="902.06" y1="503.0" y2="508.8"/>
<line x1="916.03" x2="916.03" y1="503.0" y2="508.8"/>
<line x1="929.99" x2="929.99" y1="503.0" y2="508.8"/>
<line x1="943.96" x2="943.96" y1="503.0" y2="508.8"/>
<line x1="957.93" x2="957.93" y1="503.0" y2="508.8"/>
<line x1="971.89" x2="971.89" y1="503.0" y2="508.8"/>
</g>
<text transform="translate(55.63,134.30) scale(1.0325,1)" font-size="26.50">50</text>
<text transform="translate(55.42,210.10) scale(1.0400,1)" font-size="26.50">40</text>
<text transform="translate(55.64,284.80) scale(1.0323,1)" font-size="26.50">30</text>
<text transform="translate(55.21,360.30) scale(1.0472,1)" font-size="26.50">20</text>
<text transform="translate(55.47,436.50) scale(1.0380,1)" font-size="26.50">10</text>
<text transform="translate(71.26,511.30) scale(0.9977,1)" font-size="26.50">0</text>
<text transform="translate(75.22,540.70) scale(1.0633,1)" font-size="26.50">1996</text>
<text transform="translate(186.72,540.70) scale(1.0638,1)" font-size="26.50">2000</text>
<text transform="translate(298.45,540.70) scale(1.0632,1)" font-size="26.50">2004</text>
<text transform="translate(410.17,540.70) scale(1.0652,1)" font-size="26.50">2008</text>
<text transform="translate(521.91,540.70) scale(1.0545,1)" font-size="26.50">2012</text>
<text transform="translate(633.63,540.70) scale(1.0674,1)" font-size="26.50">2016</text>
<text transform="translate(745.36,540.70) scale(1.0638,1)" font-size="26.50">2020</text>
<text transform="translate(857.09,540.70) scale(1.0632,1)" font-size="26.50">2024</text>
<g><text transform="translate(264.75,43.30) scale(1.1210,1)" font-size="32.39" font-weight="bold">Number </text><text transform="translate(412.05,43.30) scale(1.1391,1)" font-size="32.39" font-weight="bold">of </text><text transform="translate(457.51,43.30) scale(1.0022,1)" font-size="32.39" font-weight="bold">GLONASS </text><text transform="translate(629.83,43.30) scale(1.0579,1)" font-size="32.39" font-weight="bold">Cycle </text><text transform="translate(733.43,43.30) scale(1.0601,1)" font-size="32.39" font-weight="bold">Slips</text></g>
<g><text transform="translate(283.14,82.80) scale(1.0031,1)" font-size="29.45">TAM200AUT </text><text transform="translate(459.73,82.80) scale(1.0205,1)" font-size="29.45">- </text><text transform="translate(478.69,82.80) scale(0.9307,1)" font-size="29.45">CEGNxEPOS </text><text transform="translate(656.96,82.80) scale(1.0443,1)" font-size="29.45">data </text><text transform="translate(728.50,82.80) scale(1.0498,1)" font-size="29.45">node</text></g>
<text transform="translate(513.61,575.90) scale(0.9860,1)" font-size="26.50">Year</text>
<g><text transform="translate(38.40,469.77) rotate(-90) scale(1.0313,1)" font-size="26.50">Cycle </text><text transform="translate(38.40,392.95) rotate(-90) scale(1.0643,1)" font-size="26.50">Slipsx1000/nr. </text><text transform="translate(38.40,207.48) rotate(-90) scale(0.9931,1)" font-size="26.50">Obs</text></g>
<text transform="translate(955.00,422.89) rotate(90) scale(0.8254,1)" font-size="23.60">Now</text>
<rect x="20.5" y="598.3" width="950.1" height="44" rx="4.6" ry="4.6" fill="#fff" stroke="#d5d5d5" stroke-width="2.8"/>
<circle cx="43.3" cy="618.4" r="4.5" fill="#b20000"/>
<circle cx="286.5" cy="618.4" r="4.5" fill="#807cba"/>
<circle cx="569.5" cy="618.4" r="4.5" fill="#660066"/>
<circle cx="853.4" cy="618.4" r="4.5" fill="#1f001c"/>
<text transform="translate(57.85,625.90) scale(0.9235,1)" font-size="26.50">GLO</text>
<text transform="translate(301.27,625.90) scale(0.9475,1)" font-size="26.50">RINEX2</text>
<text transform="translate(584.26,625.90) scale(0.9508,1)" font-size="26.50">RINEX3</text>
<text transform="translate(868.15,625.90) scale(0.9535,1)" font-size="26.50">RINEX4</text>
<g><text transform="translate(19.55,675.00) scale(0.9727,1)" font-size="20.61" font-style="italic">Sat Jan </text><text transform="translate(94.55,675.00) scale(1.0252,1)" font-size="20.61" font-style="italic">10 </text><text transform="translate(125.40,675.00) scale(1.0725,1)" font-size="20.61" font-style="italic">12:20:49 </text><text transform="translate(218.55,675.00) scale(1.0563,1)" font-size="20.61" font-style="italic">2026</text></g>
<text transform="translate(833.02,675.00) scale(0.9441,1)" font-size="20.61" font-style="italic">©GNSS@ROB</text>
</svg>
</body></html>
